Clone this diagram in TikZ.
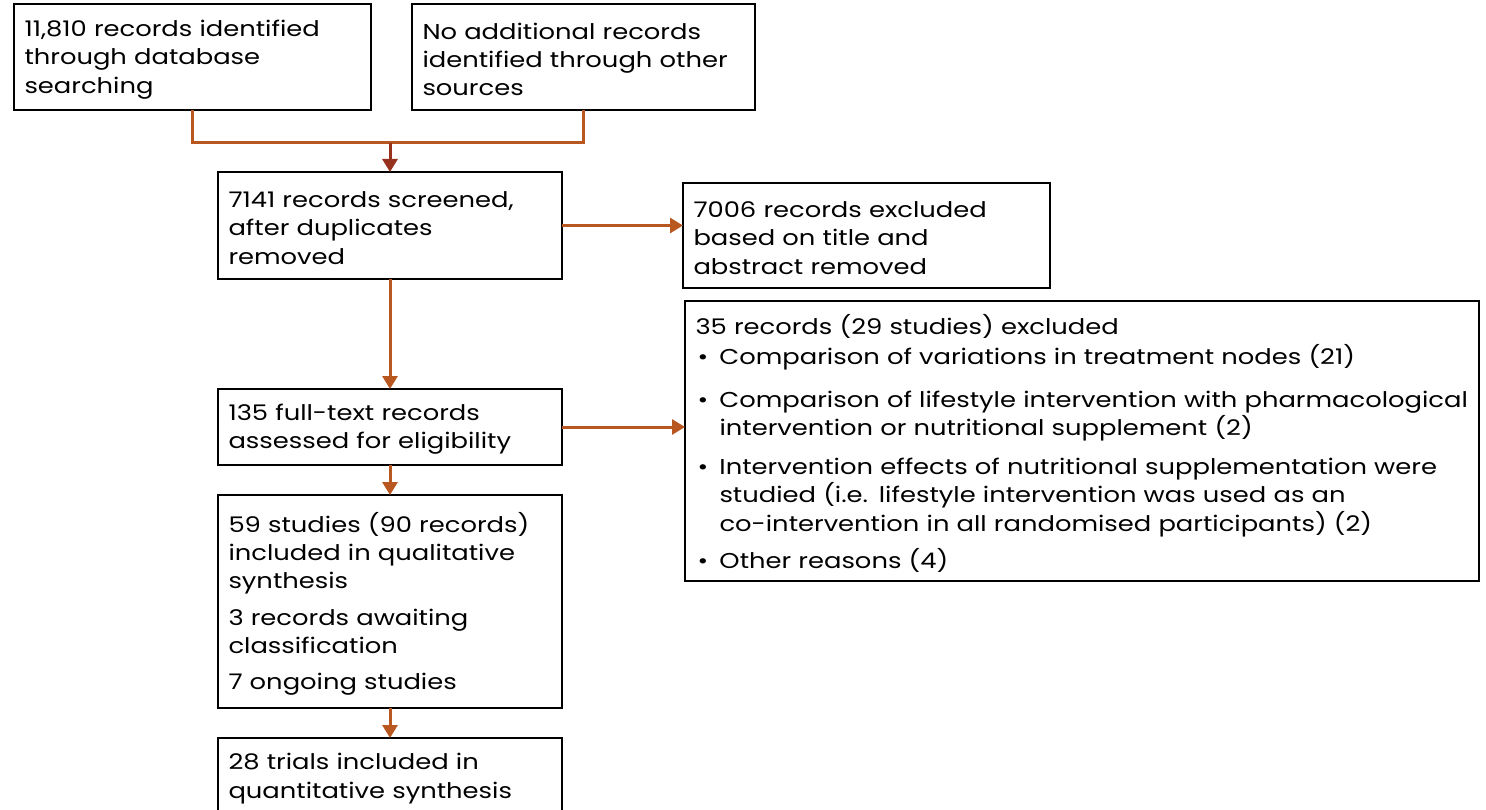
\documentclass[tikz,border=0pt]{standalone}
\usepackage{fontspec}
\setmainfont{Poppins}[FakeStretch=1.2]
\usetikzlibrary{arrows.meta,calc}
\definecolor{flow}{RGB}{184,88,32}
\definecolor{flowdark}{RGB}{150,50,30}
\newcommand{\bitem}[2][10pt]{\par\vspace{#1}\hangindent=24pt\hangafter=1\noindent\makebox[24pt][l]{\hspace{2pt}\textbullet}#2}
\newcommand{\nodeend}{\par\vspace{-5pt}}
\begin{document}
\begin{tikzpicture}[x=1pt,y=1pt,
  box/.style={draw=black, line width=2.4pt, rectangle, anchor=north west, align=left,
    inner xsep=10.5pt, inner ysep=0pt, outer sep=0pt,
    font=\fontsize{21.5}{28.3}\selectfont,
    execute at end node=\nodeend},
  flowline/.style={draw=flow, line width=3pt},
  flowarrow/.style={flowline, -{Triangle[width=15pt,length=13pt]}}]
\useasboundingbox (0,0) rectangle (1486,-810);
\node[box, text width=336pt, minimum height=106pt] (b1) at (14,-4)
  {11,810 records identified\\through database\\searching};
\node[box, text width=322pt, minimum height=106pt] (b2) at (412,-4)
  {No additional records\\identified through other\\sources};
\node[box, text width=323pt, minimum height=107pt] (b3) at (218,-172)
  {7141 records screened,\\after duplicates\\removed};
\node[box, text width=346pt, minimum height=105pt] (b4) at (683,-183)
  {7006 records excluded\\based on title and\\abstract removed};
\node[box, text width=323pt, minimum height=76pt] (b5) at (218,-389)
  {135 full-text records\\assessed for eligibility};
\node[box, text width=773pt, minimum height=280pt] (b6) at (685,-301)
  {35 records (29 studies) excluded
   \bitem[2pt]{Comparison of variations in treatment nodes (21)}
   \bitem[14pt]{Comparison of lifestyle intervention with pharmacological\hfil\break intervention or nutritional supplement (2)}
   \bitem[11pt]{Intervention effects of nutritional supplementation were\hfil\break studied (i.e. lifestyle intervention was used as an\hfil\break co-intervention in all randomised participants) (2)}
   \bitem[9pt]{Other reasons (4)}};
\node[box, text width=323pt, minimum height=213pt] (b7) at (218,-495)
  {59 studies (90 records)\hfil\break included in qualitative\hfil\break synthesis
   \par\vspace{8pt}\noindent 3 records awaiting\hfil\break classification
   \par\vspace{8pt}\noindent 7 ongoing studies};
\node[box, text width=323pt, minimum height=76pt] (b8) at (218,-738)
  {28 trials included in\\quantitative synthesis};
% merge connector
\coordinate (m1) at ($(b1.south)+(0,-33)$);
\coordinate (m2) at (m1 -| b2.south);
\coordinate (mm) at (m1 -| b3.north);
\draw[flowline, line join=miter] (b1.south) -- (m1) -- (m2) -- (b2.south);
\draw[line width=3pt, draw=flowdark, -{Triangle[width=15pt,length=13pt]}] (mm) -- (b3.north);
% main flow
\draw[flowarrow] (b3.south) -- (b5.north);
\draw[flowarrow] (b5.south) -- (b7.north);
\draw[flowarrow] (b7.south) -- (b8.north);
\draw[flowarrow] (b3.east) -- (b3.east -| b4.west);
\draw[flowarrow] (b5.east) -- (b5.east -| b6.west);
\end{tikzpicture}
\end{document}
